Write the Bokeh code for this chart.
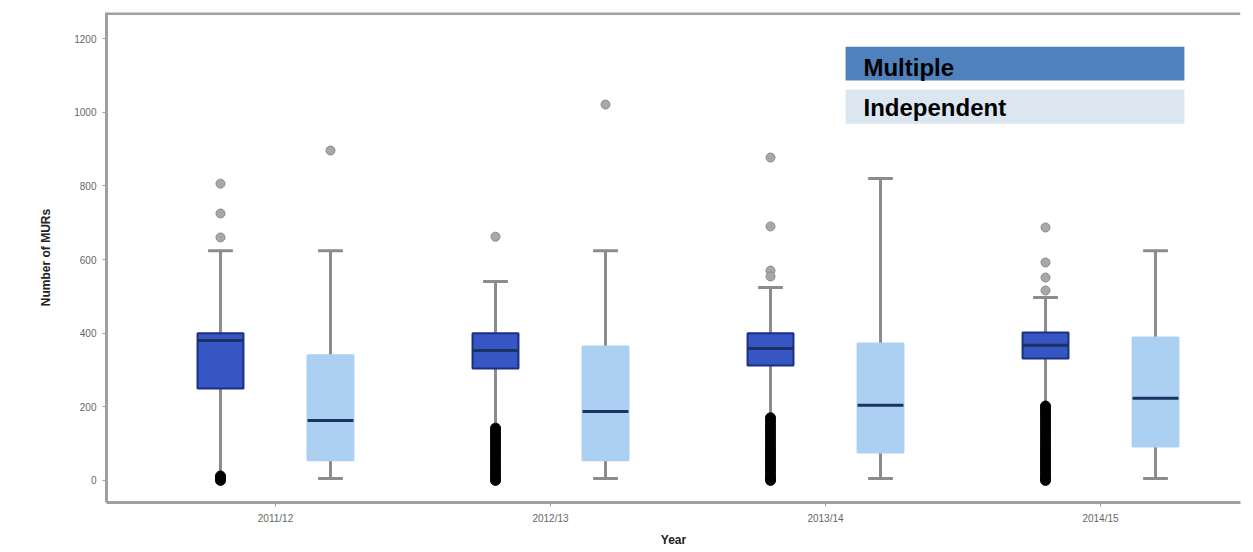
from bokeh.plotting import figure
from bokeh.models import ColumnDataSource, FixedTicker, Range1d, Span, Label, BoxAnnotation
from bokeh.embed import file_html
from bokeh.resources import INLINE

# MURs per pharmacy, by year and pharmacy type
years = ["2011/12", "2012/13", "2013/14", "2014/15"]

mult_q1 = [250, 304, 312, 331]
mult_med = [380, 353, 358, 367]
mult_q3 = [400, 400, 400, 402]
mult_lo = [25, 150, 179, 212]
mult_hi = [624, 540, 524, 497]

ind_q1 = [55, 55, 76, 92]
ind_med = [163, 187, 204, 223]
ind_q3 = [340, 364, 372, 388]
ind_lo = [5, 5, 5, 5]
ind_hi = [624, 624, 820, 624]

mult_out_high = [[806, 725, 660], [662], [877, 690, 570, 554], [687, 592, 551, 516]]
mult_out_low = [
    [0, 6, 12],
    [142, 134, 126, 118, 110, 102, 94, 86, 78, 70, 62, 54, 46, 38, 30, 22, 14, 6, 0],
    [170, 162, 154, 146, 138, 130, 122, 114, 106, 98, 90, 82, 74, 66, 58, 50, 42, 34,
     26, 18, 10, 4, 0],
    [202, 194, 186, 178, 170, 162, 154, 146, 138, 130, 122, 114, 106, 98, 90, 82, 74,
     66, 58, 50, 42, 34, 26, 18, 10, 4, 0],
]
ind_out_high = [[896], [1021], [], []]

y_ticks = [0, 200, 400, 600, 800, 1000, 1200]

OFFSET = 0.2
BOX_W = 0.167
CAP_W = 0.09
MULT_FILL = "#3656c4"
MULT_EDGE = "#1b2f86"
IND_FILL = "#acd0f2"
MEDIAN = "#1a3360"
WHISKER = "#8c8c8c"
AXIS = "#a0a0a0"

p = figure(frame_width=1134, frame_height=490, min_border_left=106, min_border_right=13,
           min_border_top=12, min_border_bottom=50,
           x_range=Range1d(0.3855, 4.509), y_range=Range1d(-60, 1271),
           output_backend="svg", toolbar_location=None)
p.outline_line_color = None
p.xgrid.visible = False
p.ygrid.visible = False
p.background_fill_color = "white"


def draw_group(offset, q1, med, q3, lo, hi, fill, edge, lo_cap=True):
    xs = [i + 1 + offset for i in range(len(years))]
    src = ColumnDataSource(dict(x=xs, q1=q1, med=med, q3=q3, lo=lo, hi=hi,
                                xl=[x - CAP_W / 2 for x in xs], xr=[x + CAP_W / 2 for x in xs],
                                bl=[x - BOX_W / 2 for x in xs], br=[x + BOX_W / 2 for x in xs]))
    # whiskers
    p.segment(x0="x", y0="q3", x1="x", y1="hi", source=src, line_color=WHISKER, line_width=3)
    p.segment(x0="x", y0="lo", x1="x", y1="q1", source=src, line_color=WHISKER, line_width=3)
    p.segment(x0="xl", y0="hi", x1="xr", y1="hi", source=src, line_color=WHISKER, line_width=3)
    if lo_cap:
        p.segment(x0="xl", y0="lo", x1="xr", y1="lo", source=src, line_color=WHISKER, line_width=3)
    # boxes
    p.vbar(x="x", width=BOX_W, top="q3", bottom="q1", source=src,
           fill_color=fill, line_color=edge, line_width=2)
    # medians
    p.segment(x0="bl", y0="med", x1="br", y1="med", source=src, line_color=MEDIAN, line_width=3)
    return xs


mx = draw_group(-OFFSET, mult_q1, mult_med, mult_q3, mult_lo, mult_hi, MULT_FILL, MULT_EDGE, lo_cap=False)
ix = draw_group(OFFSET, ind_q1, ind_med, ind_q3, ind_lo, ind_hi, IND_FILL, IND_FILL)

hx, hy = [], []
for x, vals in zip(mx, mult_out_high):
    hx += [x] * len(vals)
    hy += vals
for x, vals in zip(ix, ind_out_high):
    hx += [x] * len(vals)
    hy += vals
p.scatter(hx, hy, size=9, marker="circle", fill_color="#a8a8a8", line_color="#8a8a8a", line_width=1)

lx, ly = [], []
for x, vals in zip(mx, mult_out_low):
    lx += [x] * len(vals)
    ly += vals
p.scatter(lx, ly, size=10, marker="circle", fill_color="black", line_color="black")

# top frame line
p.add_layout(Span(location=1268, dimension="width", line_color=AXIS, line_width=3))

# legend panel
p.add_layout(BoxAnnotation(left=3.073, right=4.305, top=1178, bottom=1086,
                           fill_color="#4f81bd", fill_alpha=1, line_color=None))
p.add_layout(BoxAnnotation(left=3.073, right=4.305, top=1062, bottom=969,
                           fill_color="#dce6f1", fill_alpha=1, line_color=None))
p.add_layout(Label(x=3.138, y=1122, text="Multiple", text_font="Liberation Sans",
                   text_font_style="bold", text_font_size="24px", text_color="black",
                   text_baseline="middle"))
p.add_layout(Label(x=3.138, y=1013, text="Independent", text_font="Liberation Sans",
                   text_font_style="bold", text_font_size="24px", text_color="black",
                   text_baseline="middle"))

# axes
p.xaxis.ticker = FixedTicker(ticks=[1, 2, 3, 4])
p.xaxis.major_label_overrides = {i + 1: y for i, y in enumerate(years)}
p.yaxis.ticker = FixedTicker(ticks=y_ticks)
for ax in (p.xaxis[0], p.yaxis[0]):
    ax.axis_line_color = AXIS
    ax.axis_line_width = 3
    ax.major_tick_line_color = AXIS
    ax.major_tick_in = 0
    ax.major_tick_out = 4
    ax.minor_tick_line_color = None
    ax.major_label_text_font = "Liberation Sans"
    ax.major_label_text_font_size = "10px"
    ax.major_label_text_color = "#666666"
    ax.axis_label_text_font = "Liberation Sans"
    ax.axis_label_text_font_size = "12px"
    ax.axis_label_text_font_style = "bold"
    ax.axis_label_text_color = "#222222"
p.xaxis.axis_label = "Year"
p.yaxis.axis_label = "Number of MURs"
p.xaxis.major_label_standoff = 6
p.yaxis.major_label_standoff = 6
p.xaxis.axis_label_standoff = 6
p.yaxis.axis_label_standoff = 18

open("out.html", "w").write(file_html(p, INLINE))
